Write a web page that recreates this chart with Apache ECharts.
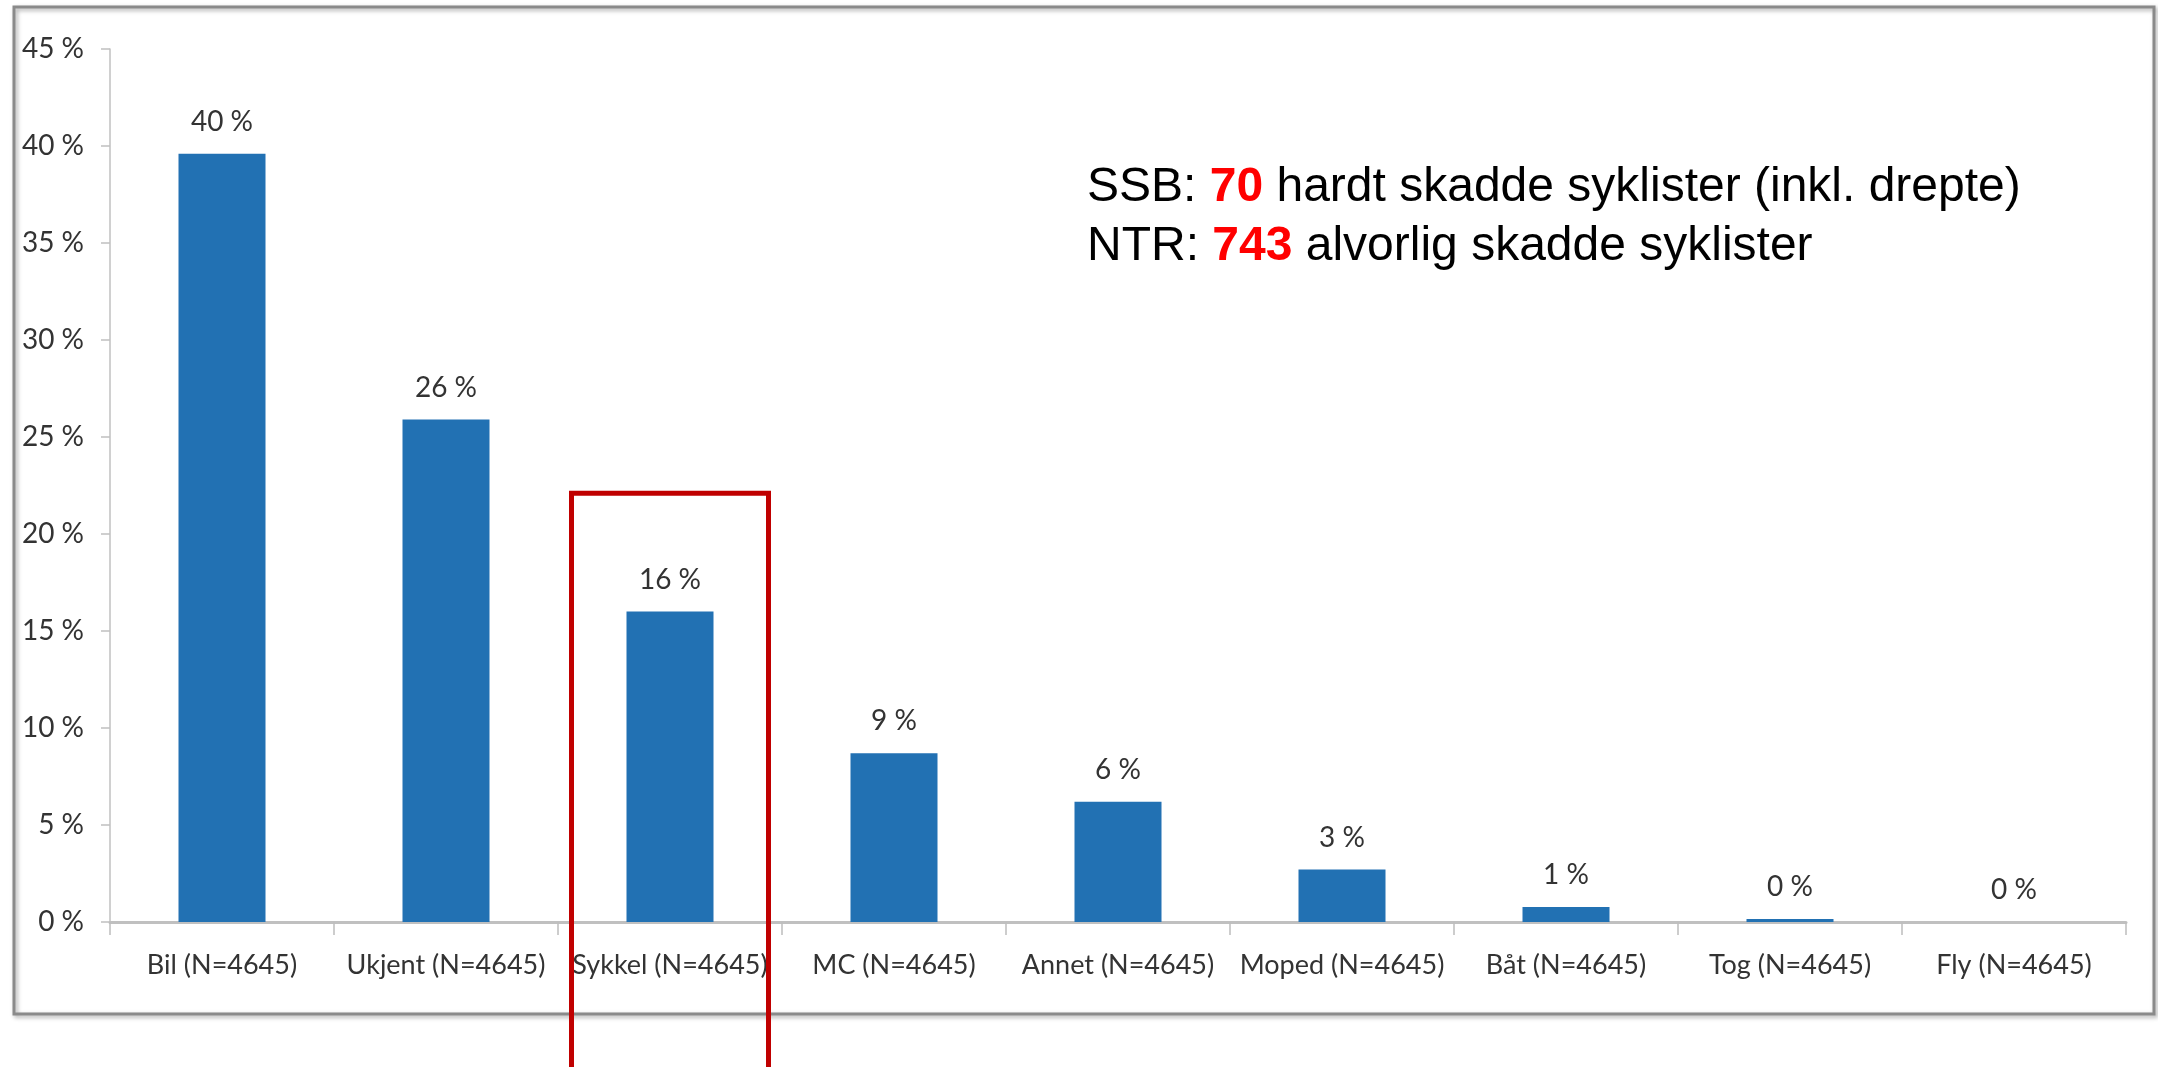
<!DOCTYPE html>
<html>
<head>
<meta charset="utf-8">
<script src="https://cdn.jsdelivr.net/npm/echarts@6/dist/echarts.min.js"></script>
<style>
  html, body { margin: 0; padding: 0; background: #fff; }
  #chart { width: 2158px; height: 1067px; }
</style>
</head>
<body>
<div id="chart"></div>
<script>
// data
const categories = ['Bil (N=4645)', 'Ukjent (N=4645)', 'Sykkel (N=4645)', 'MC (N=4645)',
  'Annet (N=4645)', 'Moped (N=4645)', 'Båt (N=4645)', 'Tog (N=4645)', 'Fly (N=4645)'];
const shares = [39.6, 25.9, 16.0, 8.7, 6.2, 2.7, 0.77, 0.15, 0];
const yTicks = [0, 5, 10, 15, 20, 25, 30, 35, 40, 45];
const noteLines = [
  { prefix: 'SSB: ', num: '70', rest: ' hardt skadde syklister (inkl. drepte)' },
  { prefix: 'NTR: ', num: '743', rest: ' alvorlig skadde syklister' }
];
const highlightCat = 'Sykkel (N=4645)';

const labelFont = 'Lato, "Open Sans", sans-serif';

const chart = echarts.init(document.getElementById('chart'));

const option = {
  animation: false,
  backgroundColor: '#fff',
  grid: { left: 110, right: 32, top: 49, bottom: 145 },
  xAxis: {
    type: 'category',
    data: categories,
    axisLine: { lineStyle: { color: '#c0c0c0', width: 3 } },
    axisTick: { show: true, length: 13, lineStyle: { color: '#bdbdbd', width: 1.5 } },
    axisLabel: { interval: 0, margin: 30, fontSize: 27, color: '#333', fontFamily: labelFont }
  },
  yAxis: {
    type: 'value',
    min: yTicks[0],
    max: yTicks[yTicks.length - 1],
    interval: 5,
    splitLine: { show: false },
    axisLine: { show: true, lineStyle: { color: '#c0c0c0', width: 1.5 } },
    axisTick: { show: true, length: 9, lineStyle: { color: '#c0c0c0', width: 1.5 } },
    axisLabel: {
      margin: 26, fontSize: 28, color: '#333', fontFamily: labelFont,
      formatter: v => v + ' %'
    }
  },
  series: [{
    type: 'bar',
    data: shares,
    barWidth: 87,
    itemStyle: { color: '#2271b3' },
    label: {
      show: true,
      position: 'top',
      distance: 18,
      fontSize: 28,
      color: '#333',
      fontFamily: labelFont,
      formatter: p => Math.round(p.value) + ' %'
    }
  }]
};

chart.setOption(option);

// annotations: outer frame, note text, red box around Sykkel
const cx = chart.convertToPixel({ xAxisIndex: 0 }, highlightCat);
const boxTop = chart.convertToPixel({ yAxisIndex: 0 }, 22.1);
const boxW = 197;

const rich = {
  b: { fontFamily: 'Liberation Sans, Arial, sans-serif', fontSize: 48, fontWeight: 'bold', fill: '#ff0000' },
  n: { fontFamily: 'Liberation Sans, Arial, sans-serif', fontSize: 48, fill: '#000' }
};

chart.setOption({
  graphic: [
    {
      type: 'rect',
      shape: { x: 14, y: 7, width: 2140, height: 1007 },
      style: { fill: 'none', stroke: '#8a8a8a', lineWidth: 3,
        shadowBlur: 4, shadowColor: 'rgba(0,0,0,0.35)', shadowOffsetX: 2, shadowOffsetY: 2 },
      silent: true, z: -1
    },
    ...noteLines.map((l, i) => ({
      type: 'text',
      left: 1087,
      top: 164 + i * 59,
      style: {
        text: '{n|' + l.prefix + '}{b|' + l.num + '}{n|' + l.rest + '}',
        rich: rich
      },
      silent: true
    })),
    {
      type: 'rect',
      shape: { x: cx - boxW / 2, y: boxTop, width: boxW, height: 1100 - boxTop },
      style: { fill: 'none', stroke: '#c00000', lineWidth: 5 },
      silent: true, z: 10
    }
  ]
});
</script>
</body>
</html>
